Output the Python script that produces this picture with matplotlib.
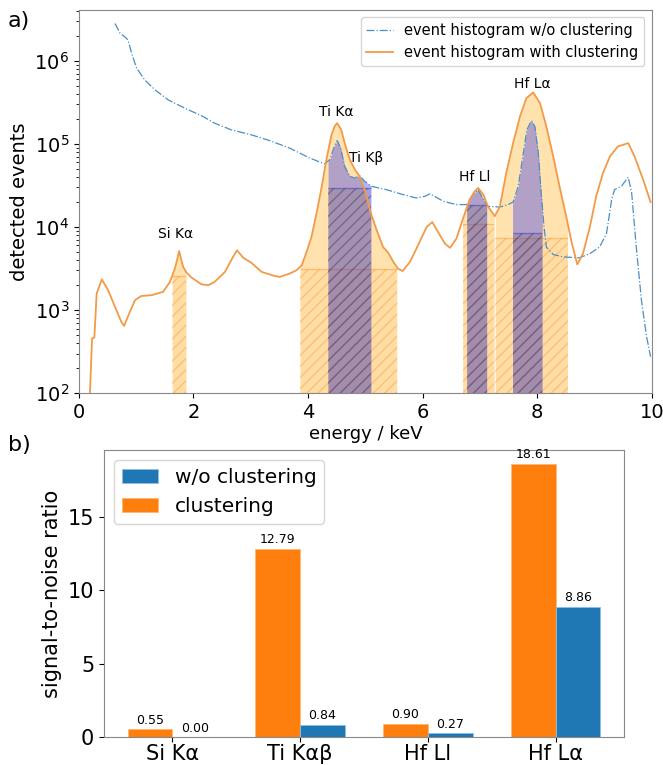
import numpy as np
import matplotlib
matplotlib.use('Agg')
import matplotlib.pyplot as plt

# ---------------- data: panel a) ----------------
energy_clu = [0.18, 0.23, 0.27, 0.31, 0.40, 0.51, 0.63, 0.74, 0.79, 0.89, 0.98, 1.09, 1.27, 1.47,
              1.59, 1.68, 1.75, 1.82, 1.88, 1.97, 2.14, 2.26, 2.37, 2.55, 2.69, 2.76, 2.87, 3.01,
              3.19, 3.42, 3.51, 3.68, 3.80, 3.89, 3.97, 4.06, 4.15, 4.24, 4.32, 4.41, 4.47, 4.51,
              4.58, 4.64, 4.73, 4.82, 4.90, 4.99, 5.08, 5.20, 5.31, 5.40, 5.49, 5.57, 5.65, 5.78,
              5.92, 6.07, 6.17, 6.27, 6.39, 6.48, 6.59, 6.71, 6.82, 6.91, 6.97, 7.06, 7.14, 7.26,
              7.35, 7.46, 7.58, 7.70, 7.81, 7.93, 8.05, 8.16, 8.28, 8.39, 8.51, 8.60, 8.70, 8.80,
              8.92, 9.03, 9.15, 9.27, 9.41, 9.59, 9.70, 9.85, 9.98]
counts_clu = [60, 457, 468, 1585, 2344, 1738, 1096, 724, 646, 955, 1318, 1479, 1514, 1660,
              2188, 3236, 5129, 3311, 2818, 2455, 2042, 1995, 2188, 2884, 4365, 5248, 4266, 3715,
              2884, 2570, 2512, 2754, 3020, 3467, 4898, 7586, 14791, 30903, 64565, 128825, 165959, 177828,
              147911, 102329, 64565, 48978, 40738, 28184, 15849, 9120, 5754, 4898, 3802, 3162, 2951, 3802,
              6026, 10000, 11482, 8710, 6310, 5623, 7244, 12882, 21380, 26915, 29512, 24547, 17783, 13490,
              17783, 44668, 102329, 213796, 354813, 416869, 309030, 162181, 70795, 30903, 13183, 6607, 3548, 4786,
              10000, 23442, 44668, 70795, 93325, 102329, 70795, 37154, 19953]

energy_raw = [0.63, 0.72, 0.80, 0.86, 0.92, 1.01, 1.15, 1.33, 1.56, 1.85, 2.14, 2.37, 2.66, 3.01,
              3.33, 3.68, 4.03, 4.29, 4.38, 4.47, 4.51, 4.57, 4.64, 4.73, 4.82, 4.90, 4.99, 5.11,
              5.37, 5.66, 5.89, 6.04, 6.13, 6.21, 6.36, 6.59, 6.77, 6.88, 6.97, 7.06, 7.14, 7.35,
              7.49, 7.58, 7.67, 7.75, 7.82, 7.90, 7.96, 8.02, 8.07, 8.12, 8.16, 8.28, 8.45, 8.74,
              8.92, 9.09, 9.21, 9.30, 9.35, 9.47, 9.59, 9.65, 9.73, 9.82, 9.91, 9.98]
counts_raw = [2818383, 2137962, 1949845, 1778279, 1230269, 812831, 588844, 446684, 338844, 269153,
              218776, 177828, 147911, 128825, 109648, 89125, 67608, 57544, 64565, 97724, 109648,
              89125, 53703, 40738, 38905, 41687, 35481, 30903, 28184, 24547, 22387, 23442, 25119,
              23442, 20417, 18621, 18621, 24547, 28184, 21380, 17783, 17378, 18621, 19953, 30903,
              70795, 147911, 190546, 162181, 77625, 25704, 10000, 5754, 4677, 4365, 4266, 4786,
              5754, 8318, 21380, 28184, 30903, 39811, 25704, 5754, 1318, 479, 275]

peak_names = ['Si Kα', 'Ti Kα', 'Ti Kβ', 'Hf Ll', 'Hf Lα']
peak_label_E = [1.68, 4.50, 5.02, 6.91, 7.92]
peak_label_N = [8300, 245000, 67000, 40000, 520000]

# signal windows and background levels
band_clu_lo = [1.63, 3.86, 6.70, 7.27]
band_clu_hi = [1.87, 5.55, 7.25, 8.53]
bg_clu = [2600, 3100, 11000, 7400]
band_raw_lo = [4.35, 6.77, 7.57]
band_raw_hi = [5.10, 7.12, 8.09]
bg_raw = [29500, 18500, 8500]

# ---------------- data: panel b) ----------------
snr_categories = ['Si Kα', 'Ti Kαβ', 'Hf Ll', 'Hf Lα']
snr_clustering = [0.55, 12.79, 0.90, 18.61]
snr_raw = [0.00, 0.84, 0.27, 8.86]

plt.rcParams['font.family'] = ['DejaVu Sans']
plt.rcParams['hatch.linewidth'] = 1.0

fig = plt.figure(figsize=(6.63, 7.65), dpi=100)
ax1 = fig.add_axes([0.119, 0.486, 0.864, 0.501])
ax2 = fig.add_axes([0.157, 0.036, 0.784, 0.376])


def band_fill(ax, E, N, lo, hi, **kw):
    E = np.asarray(E, float)
    logN = np.log10(np.asarray(N, float))
    inside = (E > lo) & (E < hi)
    xs = np.concatenate([[lo], E[inside], [hi]])
    ys = np.concatenate([[np.interp(lo, E, logN)], logN[inside], [np.interp(hi, E, logN)]])
    ax.fill_between(xs, 10 ** ys, 1, linewidth=0, **kw)


orange_fill = (1.0, 0.65, 0.0, 0.32)
orange_hatch_face = (1.0, 0.6, 0.1, 0.06)
orange_hatch_edge = (0.95, 0.55, 0.15, 0.35)
purple_fill = (0.1, 0.1, 1.0, 0.33)
purple_hatch_face = (0.35, 0.3, 0.3, 0.18)
purple_hatch_edge = (0.3, 0.2, 0.35, 0.45)

for lo, hi, bg in zip(band_clu_lo, band_clu_hi, bg_clu):
    band_fill(ax1, energy_clu, counts_clu, lo, hi, color=orange_fill, zorder=1)
    ax1.fill_between([lo, hi], [bg, bg], 1, facecolor=orange_hatch_face,
                     edgecolor=orange_hatch_edge, hatch='///', linewidth=0, zorder=1.5)
    ax1.hlines(bg, lo, hi, color=(0.95, 0.6, 0.2, 0.45), lw=1.0, zorder=1.6)

for lo, hi, bg in zip(band_raw_lo, band_raw_hi, bg_raw):
    band_fill(ax1, energy_raw, counts_raw, lo, hi, color=purple_fill, zorder=2)
    ax1.fill_between([lo, hi], [bg, bg], 1, facecolor=purple_hatch_face,
                     edgecolor=purple_hatch_edge, hatch='///', linewidth=0, zorder=2.5)
    ax1.hlines(bg, lo, hi, color=(0.3, 0.3, 0.8, 0.6), lw=1.0, zorder=2.6)

ax1.plot(energy_raw, counts_raw, linestyle='-.', color='#4a8fc6', lw=0.9,
         label='event histogram w/o clustering', zorder=3)
ax1.plot(energy_clu, counts_clu, linestyle='-', color='#f29a48', lw=1.3,
         label='event histogram with clustering', zorder=3)

for name, e, n in zip(peak_names, peak_label_E, peak_label_N):
    ax1.text(e, n, name, ha='center', va='center', fontsize=10, zorder=4)

ax1.set_yscale('log')
ax1.set_xlim(0, 10)
ax1.set_ylim(1e2, 4.1e6)
ax1.set_xlabel('energy / keV', fontsize=13, labelpad=2)
ax1.set_ylabel('detected events', fontsize=14)
ax1.tick_params(labelsize=14)
ax1.legend(loc='upper right', fontsize=10.5, framealpha=0.8, handlelength=1.8)

# ---------------- panel b ----------------
x = np.arange(len(snr_categories))
w = 0.35
b1 = ax2.bar(x - w / 2, snr_clustering, w, color='#ff7f0e', label='clustering',
             edgecolor='#ffb870', linewidth=0.6)
b0 = ax2.bar(x + w / 2, snr_raw, w, color='#1f77b4', label='w/o clustering',
             edgecolor='#8cc0e8', linewidth=0.6)
ax2.bar_label(b1, fmt='%.2f', fontsize=9, padding=2)
ax2.bar_label(b0, fmt='%.2f', fontsize=9, padding=2)
ax2.set_xticks(x)
ax2.set_xticklabels(snr_categories)
ax2.tick_params(labelsize=15)
ax2.tick_params(axis='x', pad=1)
ax2.set_ylabel('signal-to-noise ratio', fontsize=15)
ax2.set_yticks([0, 5, 10, 15])
handles = [b0, b1]
ax2.legend(handles, ['w/o clustering', 'clustering'], loc='upper left', fontsize=14.5,
           handlelength=1.8)

for ax in (ax1, ax2):
    for s in ax.spines.values():
        s.set_color('#888888')

fig.text(0.012, 0.972, 'a)', fontsize=16, ha='left', va='center')
fig.text(0.012, 0.418, 'b)', fontsize=16, ha='left', va='center')

fig.savefig('out.png', dpi=100)
